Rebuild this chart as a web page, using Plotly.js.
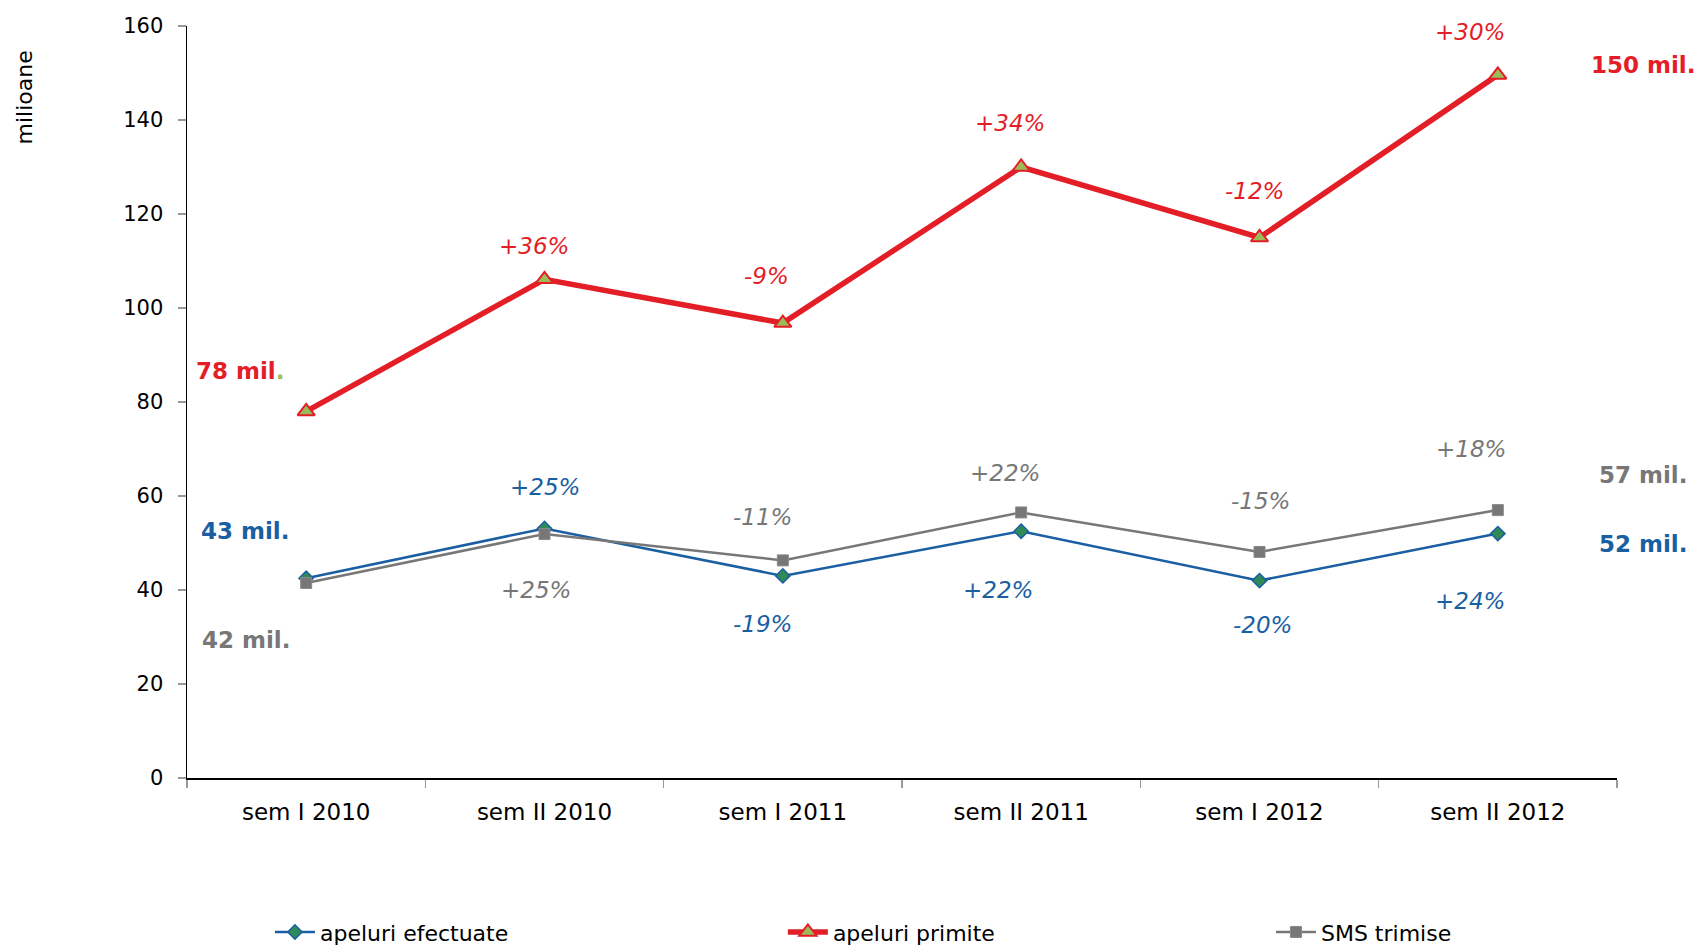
<!DOCTYPE html>
<html>
<head>
<meta charset="utf-8">
<script src="https://cdn.plot.ly/plotly-3.0.1.min.js"></script>
<style>html,body{margin:0;padding:0;background:#fff;}#chart{width:1699px;height:948px;}</style>
</head>
<body>
<div id="chart"></div>
<script>
// ---- data ----
const categories = ["sem I 2010", "sem II 2010", "sem I 2011", "sem II 2011", "sem I 2012", "sem II 2012"];
const apeluriEfectuate = [42.5, 53.1, 43.0, 52.5, 42.0, 52.0];
const apeluriPrimite = [78.0, 106.1, 96.8, 130.0, 115.0, 149.6];
const smsTrimise = [41.5, 51.9, 46.3, 56.5, 48.1, 57.0];
const pctEfectuate = ["", "+25%", "-19%", "+22%", "-20%", "+24%"];
const pctPrimite = ["", "+36%", "-9%", "+34%", "-12%", "+30%"];
const pctSms = ["", "+25%", "-11%", "+22%", "-15%", "+18%"];
const startLabels = {primite: "78 mil", efectuate: "43 mil.", sms: "42 mil."};
const endLabels = {primite: "150 mil.", efectuate: "52 mil.", sms: "57 mil."};

// ---- styles ----
const FONT = "'DejaVu Sans', Verdana, sans-serif";
const RED = "#e31e27", BLUE = "#1b5fa3", GRAY = "#777777", LIME = "#9bbb59";

// label offsets (px) relative to each point
const offPrimite = [null, [-11, 33], [-16, 47], [-11, 44], [-5, 47], [-28, 43]];
const offEfectuate = [null, [0, 41], [-20, -48], [-23, -59], [3, -44], [-28, -67]];
const offSms = [null, [-9, -56], [-20, 43], [-16, 39], [1, 51], [-27, 61]];

const traces = [
  {x: categories, y: apeluriEfectuate, name: "apeluri efectuate", type: "scatter", mode: "lines+markers",
   legend: "legend",
   line: {color: BLUE, width: 2.5},
   marker: {symbol: "diamond", size: 11, color: "#2e8b57", line: {color: BLUE, width: 1.5}}},
  {x: categories, y: apeluriPrimite, name: "apeluri primite", type: "scatter", mode: "lines+markers",
   legend: "legend2",
   line: {color: RED, width: 5.5},
   marker: {symbol: "triangle-up", size: 15, color: LIME, line: {color: RED, width: 2}}},
  {x: categories, y: smsTrimise, name: "SMS trimise", type: "scatter", mode: "lines+markers",
   legend: "legend3",
   line: {color: GRAY, width: 2.5},
   marker: {symbol: "square", size: 11, color: GRAY, line: {color: "#8a8a8a", width: 1}}}
];

const annotations = [];
function addPct(labels, values, offs, color) {
  labels.forEach((t, i) => {
    if (!t) return;
    annotations.push({x: categories[i], y: values[i], xref: "x", yref: "y", text: t, showarrow: false,
      xshift: offs[i][0], yshift: offs[i][1],
      font: {family: FONT, size: 23, color: color, style: "italic"}});
  });
}
addPct(pctPrimite, apeluriPrimite, offPrimite, RED);
addPct(pctEfectuate, apeluriEfectuate, offEfectuate, BLUE);
addPct(pctSms, smsTrimise, offSms, GRAY);

function addBold(text, cat, val, dx, dy, color) {
  annotations.push({x: cat, y: val, xref: "x", yref: "y", text: text, showarrow: false,
    xshift: dx, yshift: dy, font: {family: FONT, size: 23, color: color, weight: "bold"}});
}
const last = categories.length - 1;
addBold(startLabels.primite + "<span style='color:" + LIME + "'>.</span>", categories[0], apeluriPrimite[0], -66, 40, RED);
addBold(startLabels.efectuate, categories[0], apeluriEfectuate[0], -61, 47, BLUE);
addBold(startLabels.sms, categories[0], smsTrimise[0], -60, -57, GRAY);
addBold(endLabels.primite, categories[last], apeluriPrimite[last], 146, 10, RED);
addBold(endLabels.sms, categories[last], smsTrimise[last], 146, 35, GRAY);
addBold(endLabels.efectuate, categories[last], apeluriEfectuate[last], 146, -10, BLUE);

// y-axis title at top-left
annotations.push({xref: "paper", yref: "paper", x: -0.114, y: 0.905, text: "milioane", textangle: -90,
  showarrow: false, xanchor: "center", yanchor: "middle", font: {family: FONT, size: 22, color: "#000"}});

const legendBase = {orientation: "h", xanchor: "left", y: -0.205, yanchor: "middle", itemwidth: 40,
  bgcolor: "rgba(0,0,0,0)", font: {family: FONT, size: 22, color: "#000"}};

const layout = {
  width: 1699, height: 948,
  margin: {l: 187, r: 82, t: 26, b: 170, autoexpand: false},
  paper_bgcolor: "#fff", plot_bgcolor: "#fff",
  font: {family: FONT, size: 22, color: "#000"},
  showlegend: true,
  legend: Object.assign({}, legendBase, {x: 0.058}),
  legend2: Object.assign({}, legendBase, {x: 0.4167}),
  legend3: Object.assign({}, legendBase, {x: 0.758}),
  xaxis: {type: "category", showline: true, linecolor: "#000", linewidth: 1.5, showgrid: false, zeroline: false,
    ticks: "outside", tickson: "boundaries", ticklen: 8, tickcolor: "#999", tickwidth: 1.5,
    ticklabelstandoff: 13,
    tickfont: {family: FONT, size: 23, color: "#000"}, range: [-0.5, 5.5]},
  yaxis: {range: [0, 160], dtick: 20, showline: true, linecolor: "#000", linewidth: 1.5, showgrid: false,
    zeroline: false, ticks: "outside", ticklen: 8, tickcolor: "#999", tickwidth: 1.5,
    ticklabelstandoff: 10,
    tickfont: {family: FONT, size: 21, color: "#000"}},
  annotations: annotations
};

Plotly.newPlot("chart", traces, layout, {displayModeBar: false, staticPlot: true});
</script>
</body>
</html>
